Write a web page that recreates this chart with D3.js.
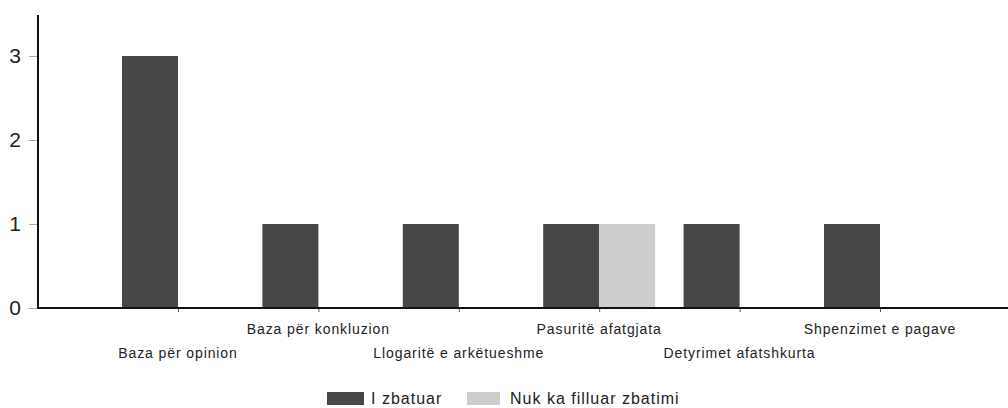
<!DOCTYPE html>
<html>
<head>
<meta charset="utf-8">
<script src="https://cdn.jsdelivr.net/npm/d3@7"></script>
<style>
  body { margin: 0; background: #fff; }
  text { font-family: "Liberation Sans", Arial, sans-serif; fill: #222; }
</style>
</head>
<body>
<div id="chart"></div>
<script>
const categories = ["Baza për opinion", "Baza për konkluzion", "Llogaritë e arkëtueshme",
  "Pasuritë afatgjata", "Detyrimet afatshkurta", "Shpenzimet e pagave"];
const seriesNames = ["I zbatuar", "Nuk ka filluar zbatimi"];
const zbatuar = [3, 1, 1, 1, 1, 1];
const nukKaFilluar = [0, 0, 0, 1, 0, 0];
const yTicks = [0, 1, 2, 3];

const width = 1008, height = 408;
const colors = ["#474747", "#cdcdcd"];

const data = categories.map((c, i) => ({cat: c, values: [zbatuar[i], nukKaFilluar[i]]}));

const svg = d3.select("#chart").append("svg")
  .attr("width", width)
  .attr("height", height);

const x = d3.scalePoint()
  .domain(categories)
  .range([178, 880]);
const xSub = d3.scaleBand()
  .domain(seriesNames)
  .range([-56, 56])
  .padding(0);
const y = d3.scaleLinear()
  .domain([0, 3])
  .range([308, 56]);

// bars
svg.append("g")
  .selectAll("g")
  .data(data)
  .join("g")
    .attr("transform", d => `translate(${x(d.cat)},0)`)
  .selectAll("rect")
  .data(d => d.values.map((v, k) => ({name: seriesNames[k], v, k})))
  .join("rect")
    .attr("x", d => xSub(d.name))
    .attr("width", xSub.bandwidth())
    .attr("y", d => y(d.v))
    .attr("height", d => y(0) - y(d.v))
    .attr("fill", d => colors[d.k]);

// y axis
const yAxis = g => g
  .attr("transform", "translate(38,0)")
  .call(d3.axisLeft(y).tickValues(yTicks).tickFormat(d3.format("d")).tickSize(9).tickPadding(8))
  .call(g => g.select(".domain").remove())
  .call(g => g.selectAll(".tick line").attr("stroke", "#aaa"))
  .call(g => g.selectAll(".tick text")
      .attr("font-size", 21)
      .attr("fill", "#222"));
svg.append("g").call(yAxis);

svg.append("line")
  .attr("x1", 38).attr("x2", 38)
  .attr("y1", 15).attr("y2", 309)
  .attr("stroke", "#111").attr("stroke-width", 2);

// x axis
const xAxis = g => g
  .attr("transform", "translate(0,308)")
  .call(d3.axisBottom(x).tickSize(4).tickFormat(""))
  .call(g => g.select(".domain").remove())
  .call(g => g.selectAll(".tick line").attr("stroke", "#555"));
svg.append("g").call(xAxis);

svg.append("line")
  .attr("x1", 37).attr("x2", width)
  .attr("y1", 308).attr("y2", 308)
  .attr("stroke", "#111").attr("stroke-width", 2);

// staggered category labels
svg.append("g")
  .selectAll("text")
  .data(categories)
  .join("text")
    .attr("x", d => x(d))
    .attr("y", (d, i) => i % 2 === 0 ? 358 : 334)
    .attr("text-anchor", "middle")
    .attr("font-size", 14)
    .attr("letter-spacing", 0.9)
    .text(d => d);

// legend
const legendX = [327, 467];
const legend = svg.append("g")
  .selectAll("g")
  .data(seriesNames)
  .join("g")
    .attr("transform", (d, i) => `translate(${legendX[i]},392)`);
legend.append("rect")
  .attr("width", (d, i) => i === 0 ? 37 : 33)
  .attr("height", 13)
  .attr("fill", (d, i) => colors[i]);
legend.append("text")
  .attr("x", (d, i) => i === 0 ? 44 : 43)
  .attr("y", 12)
  .attr("font-size", 16)
  .attr("letter-spacing", 1)
  .text(d => d);
</script>
</body>
</html>
